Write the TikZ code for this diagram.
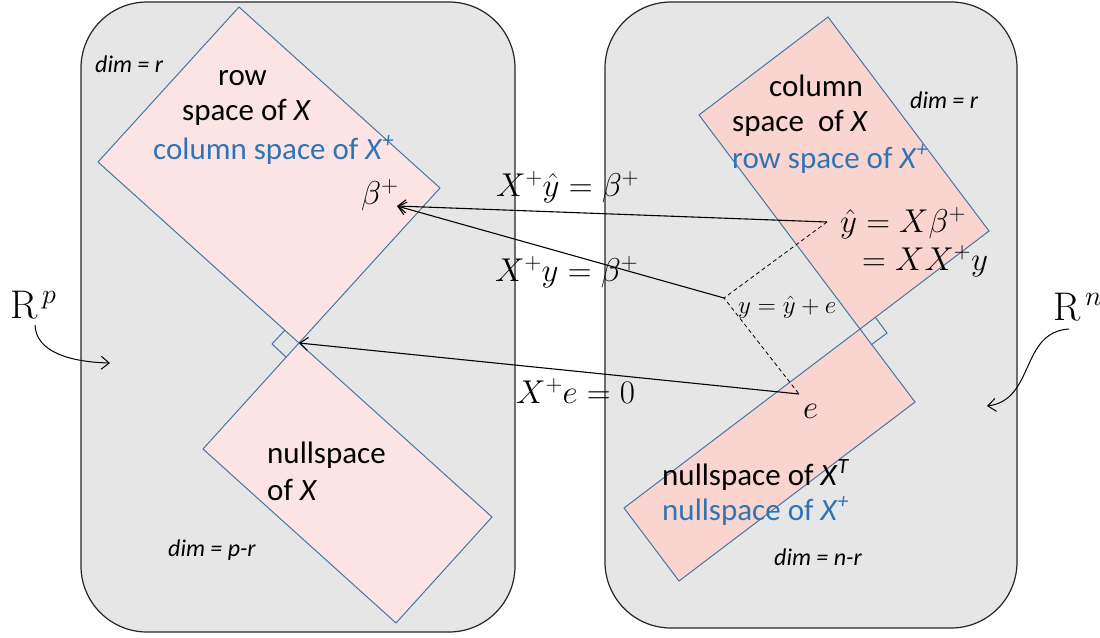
\RequirePackage{fix-cm}
\documentclass[tikz,border=0pt]{standalone}
\usepackage{amsmath}
\usepackage[no-math]{fontspec}
\setmainfont{Carlito}
\usepackage[dvipsnames]{xcolor}
\usepackage{tikz}
\usetikzlibrary{arrows.meta}
\definecolor{boxgray}{RGB}{230,230,230}
\definecolor{pinkL}{RGB}{252,228,228}
\definecolor{pinkR}{RGB}{250,213,208}
\definecolor{edgeblue}{RGB}{70,118,165}
\definecolor{txtblue}{RGB}{46,117,182}

\begin{document}
\begin{tikzpicture}[x=1pt, y=-1pt,
        box/.style = {draw=black!85, fill=boxgray, line width=1.2pt, rounded corners=66pt},
        subsp/.style = {draw=edgeblue, line width=1pt},
        txt/.style = {anchor=base west, inner sep=0pt, font=\fontsize{31}{37}\selectfont},
        blu/.style = {txt, text=txtblue},
        dimlbl/.style = {anchor=base west, inner sep=0pt, font=\fontsize{24}{28}\selectfont\itshape},
        eq/.style = {anchor=base west, inner sep=0pt, font=\fontsize{33}{38}\selectfont},
        map/.style = {-{Straight Barb[length=8pt,width=13pt]}, line width=1.1pt}]
        \useasboundingbox (0,0) rectangle (1100,637);
        \draw[box] (81,2) rectangle (515,632);
        \draw[box] (605,2) rectangle (1017,628);
        \filldraw[subsp, fill=pinkL] (239,7) -- (440,188) -- (299,343) -- (98,162) -- cycle;
        \filldraw[subsp, fill=pinkL] (299,343) -- (492,517) -- (396,623) -- (203,449) -- cycle;
        \filldraw[subsp, fill=pinkR] (828,17) -- (989,231) -- (860,329) -- (699,115) -- cycle;
        \filldraw[subsp, fill=pinkR] (860,329) -- (915,402) -- (679,581) -- (624,508) -- cycle;
        \draw[subsp] (285,330) -- (272,344) -- (286,357);
        \draw[subsp] (875,317) -- (887,333) -- (871,345);
        \coordinate (yhat) at (827,222);
        \coordinate (yvec) at (724,298);
        \coordinate (evec) at (799,394);
        \coordinate (btip) at (397,206);
        \coordinate (orig) at (299,343);
        \coordinate (rpa) at (35,325);
        \coordinate (rpb) at (110,363);
        \coordinate (rna) at (1069,329);
        \coordinate (rnb) at (987,406);
        \draw[map] (yhat) -- (btip);
        \draw[map] (yvec) -- (btip);
        \draw[map] (evec) -- (orig);
        \draw[line width=0.8pt, dash pattern=on 4pt off 3pt] (yhat) -- (yvec) -- (evec);
        \draw[map, line width=1pt] (rpa) .. controls (36,352) and (70,362) .. (rpb);
        \draw[map, line width=1pt] (rna) .. controls (1020,332) and (1035,400) .. (rnb);
        \node[dimlbl] (dimrow) at (95,72) {dim = r};
        \node[txt] (row1) at (218,85) {row};
        \node[txt] (row2) at (182,120) {space of \textit{X}};
        \node[blu] (row3) at (153,159) {column space of \textit{X}\textsuperscript{\textit{+}}};
        \node[eq] (beta) at (361,204) {$\beta^{+}$};
        \node[eq] (lblyhat) at (496,196) {$X^{+}\hat{y}=\beta^{+}$};
        \node[eq] (lbly) at (495,281) {$X^{+}y=\beta^{+}$};
        \node[eq] (lble) at (516,403) {$X^{+}e=0$};
        \node[txt] (null1) at (267,463) {nullspace};
        \node[txt] (null2) at (267,500) {of \textit{X}};
        \node[dimlbl] (dimnull) at (168,556) {dim = p-r};
        \node[txt] (col1) at (769,96) {column};
        \node[txt] (col2) at (732,131) {space\ \ of \textit{X}};
        \node[blu] (col3) at (732,168) {row space of \textit{X}\textsuperscript{\textit{+}}};
        \node[dimlbl] (dimcol) at (910,108) {dim = r};
        \node[eq] (fit1) at (840,232) {$\hat{y}=X\beta^{+}$};
        \node[eq] (fit2) at (862,270) {$=XX^{+}y$};
        \node[eq, font=\fontsize{25}{29}\selectfont] (ysum) at (738,313) {$y=\hat{y}+e$};
        \node[eq] (elbl) at (803,418) {$e$};
        \node[txt] (lnull1) at (662,485) {nullspace of \textit{X}\textsuperscript{\textit{T}}};
        \node[blu] (lnull2) at (662,520) {nullspace of \textit{X}\textsuperscript{\textit{+}}};
        \node[dimlbl] (dimlnull) at (774,565) {dim = n-r};
        \node[eq, font=\fontsize{40}{44}\selectfont] (rp) at (10,318) {$\mathrm{R}^{\,p}$};
        \node[eq, font=\fontsize{40}{44}\selectfont] (rn) at (1053,320) {$\mathrm{R}^{\,n}$};
      \end{tikzpicture}
\end{document}
